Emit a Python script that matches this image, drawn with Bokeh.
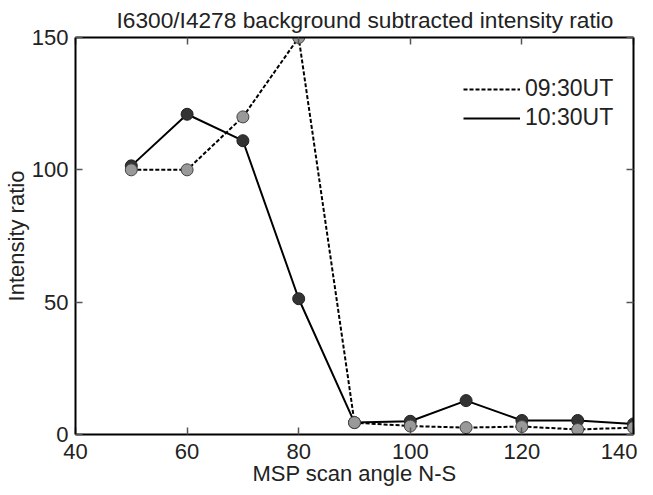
from bokeh.plotting import figure
from bokeh.models import LinearAxis, Legend, LegendItem, Range1d, FixedTicker, CustomJSTickFormatter
from bokeh.embed import file_html
from bokeh.resources import INLINE

angles = [50, 60, 70, 80, 90, 100, 110, 120, 130, 140]
ut0930 = [100, 100, 120, 150, 4.5, 3.2, 2.6, 3.0, 1.9, 2.6]
ut1030 = [101.5, 121, 111, 51.3, 4.5, 5.0, 12.8, 5.3, 5.3, 4.0]
x_ticks = [40, 60, 80, 100, 120, 140]
y_ticks = [0, 50, 100, 150]

FONT = "Liberation Sans"
FS = "22px"

p = figure(frame_width=558, frame_height=397, output_backend="svg", toolbar_location=None,
           x_range=Range1d(40, 140), y_range=Range1d(0, 150),
           x_axis_location=None, y_axis_location=None,
           min_border_left=69, min_border_right=4, min_border_top=29,
           min_border_bottom=40)
p.grid.visible = False
p.outline_line_color = None

p.title.text = "I6300/I4278 background subtracted intensity ratio"
p.title.text_font = FONT
p.title.text_font_size = "22.7px"
p.title.text_font_style = "normal"
p.title.text_color = "#222222"
p.title.align = "left"
p.title.offset = 41
p.title.standoff = 9


def style_axis(ax, ticks, nminor, labels=True):
    ax.ticker = FixedTicker(ticks=ticks, num_minor_ticks=nminor)
    ax.axis_line_width = 2
    ax.axis_line_color = "black"
    ax.major_tick_in = 7
    ax.major_tick_out = 0
    ax.minor_tick_in = 4
    ax.minor_tick_out = 0
    ax.major_tick_line_width = 1.5
    ax.minor_tick_line_width = 1.2
    ax.major_tick_line_color = "#555555"
    ax.minor_tick_line_color = "#555555"
    if labels:
        ax.major_label_text_font = FONT
        ax.major_label_text_font_size = FS
        ax.major_label_text_color = "#222222"
        ax.axis_label_text_font = FONT
        ax.axis_label_text_font_size = FS
        ax.axis_label_text_font_style = "normal"
        ax.axis_label_text_color = "#222222"
    else:
        ax.formatter = CustomJSTickFormatter(code="return ''")
        ax.major_label_standoff = 0
        ax.axis_label = None


xb = LinearAxis(axis_label="MSP scan angle N-S")
style_axis(xb, x_ticks, 4)
xb.major_label_standoff = 9
xb.axis_label_standoff = -1
p.add_layout(xb, "below")

yl = LinearAxis(axis_label="Intensity ratio")
style_axis(yl, y_ticks, 5)
yl.major_label_standoff = 7
yl.axis_label_standoff = 0
p.add_layout(yl, "left")

xt = LinearAxis()
style_axis(xt, x_ticks, 4, labels=False)
p.add_layout(xt, "above")

yr = LinearAxis()
style_axis(yr, y_ticks, 5, labels=False)
p.add_layout(yr, "right")

l2 = p.line(angles, ut1030, line_color="black", line_width=2)
p.scatter(angles, ut1030, size=12, fill_color="#333333", line_color="#222222", line_width=1)
l1 = p.line(angles, ut0930, line_color="black", line_width=2, line_dash="4 2")
p.scatter(angles, ut0930, size=12, fill_color="#999999", line_color="#444444", line_width=1)

legend = Legend(items=[LegendItem(label="09:30UT", renderers=[l1]),
                       LegendItem(label="10:30UT", renderers=[l2])],
                location=(378, 293))
legend.border_line_alpha = 0
legend.background_fill_alpha = 0
legend.label_text_font = FONT
legend.label_text_font_size = "23px"
legend.label_text_color = "#222222"
legend.glyph_width = 57
legend.label_standoff = 5
legend.spacing = 2
p.add_layout(legend, "center")

open("out.html", "w").write(file_html(p, INLINE))
